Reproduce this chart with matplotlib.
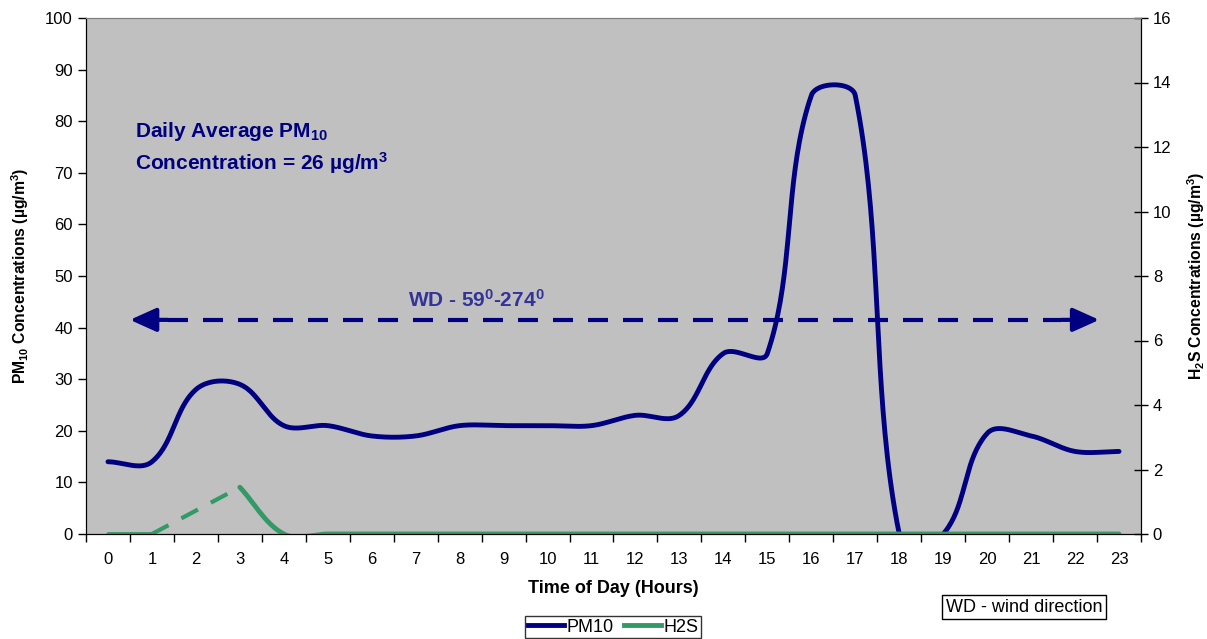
import numpy as np
import matplotlib
matplotlib.use("Agg")
import matplotlib.pyplot as plt
from matplotlib.lines import Line2D

plt.rcParams['font.family'] = ['Liberation Sans', 'DejaVu Sans']
plt.rcParams['mathtext.default'] = 'regular'

hours = list(range(24))
hour_labels = [str(h) for h in hours]
pm10 = [14, 14, 28, 29, 21, 21, 19, 19, 21, 21, 21, 21, 23, 23, 35, 35, 85, 85, 0, 0, 19.5, 19, 16, 16]
h2s = [0, 0, None, 1.45, 0, 0, 0, 0, 0, 0, 0, 0, 0, 0, 0, 0, 0, 0, 0, 0, 0, 0, 0, 0]

wd_text = "WD - 59$^{0}$-274$^{0}$"
avg_line1 = "Daily Average PM$_{10}$"
avg_line2 = "Concentration = 26 µg/m$^{3}$"


def smooth(axis, xs, ys, n=40):
    """Excel-like smoothed line: Bezier segments computed in display space."""
    pts = axis.transData.transform(np.column_stack([xs, ys]).astype(float))
    m = len(pts)
    out = []
    t = np.linspace(0, 1, n)[:, None]
    for i in range(m - 1):
        p0 = pts[i - 1] if i > 0 else pts[i]
        p1 = pts[i]
        p2 = pts[i + 1]
        p3 = pts[i + 2] if i + 2 < m else pts[i + 1]
        seg = np.linalg.norm(p2 - p1)
        d1 = p2 - p0
        d2 = p3 - p1
        n1 = np.linalg.norm(d1)
        n2 = np.linalg.norm(d2)
        c1 = p1 + (d1 / n1 * seg / 3.0 if n1 > 0 else 0)
        c2 = p2 - (d2 / n2 * seg / 3.0 if n2 > 0 else 0)
        b = ((1 - t) ** 3) * p1 + 3 * ((1 - t) ** 2) * t * c1 + 3 * (1 - t) * t ** 2 * c2 + t ** 3 * p2
        out.append(b if i == 0 else b[1:])
    out = np.vstack(out)
    data = axis.transData.inverted().transform(out)
    return data[:, 0], data[:, 1]


fig = plt.figure(figsize=(12.07, 6.39), dpi=100)
ax = fig.add_axes([86 / 1207, 1 - 534 / 639, (1141 - 86) / 1207, (534 - 18) / 639])
ax.set_facecolor('#C0C0C0')
ax2 = ax.twinx()

ax.set_xlim(-0.5, 23.5)
ax.set_ylim(0, 100)
ax2.set_xlim(-0.5, 23.5)
ax2.set_ylim(0, 16)

navy = '#000080'
green = '#339966'

# PM10
sx, sy = smooth(ax, hours, pm10)
ax.plot(sx, sy, color=navy, lw=3.5, solid_capstyle='round', zorder=3)

# H2S: segments separated by the missing value at hour 2
ax2.plot(hours[:2], h2s[:2], color=green, lw=3.5, solid_capstyle='round', zorder=2)
gx, gy = smooth(ax2, hours[3:], h2s[3:])
ax2.plot(gx, gy, color=green, lw=3.5, solid_capstyle='round', zorder=2)
ax2.plot([hours[1], hours[3]], [h2s[1], h2s[3]], color=green, lw=3, ls=(0, (4.5, 3.5)), zorder=2)

ax.set_yticks(np.arange(0, 101, 10))
ax2.set_yticks(np.arange(0, 17, 2))
ax.set_xticks(hours)
ax.set_xticklabels(hour_labels)
ax.set_xticks(np.arange(-0.5, 24, 1), minor=True)
ax.tick_params(axis='x', which='major', length=0, labelsize=12, pad=13)
ax.tick_params(axis='x', which='minor', length=6, direction='out', width=1)
ax.tick_params(axis='y', length=6, direction='out', labelsize=12, width=1)
ax2.tick_params(axis='y', length=10, direction='inout', labelsize=12, width=1)

for a in (ax, ax2):
    a.spines['top'].set_color('#808080')
    a.spines['left'].set_color('black')
    a.spines['right'].set_color('black')
    a.spines['bottom'].set_color('black')

ax.set_xlabel('Time of Day (Hours)', fontsize=13, fontweight='bold', labelpad=9)
ax.set_ylabel('PM$_{10}$ Concentrations (µg/m$^{3}$)', fontsize=11.3, fontweight='bold', labelpad=10)
ax2.set_ylabel('H$_{2}$S Concentrations (µg/m$^{3}$)', fontsize=11.3, fontweight='bold', labelpad=10)

ax.text(0.62, 78.1, avg_line1, fontsize=15, fontweight='bold', color=navy, va='center')
ax.text(0.62, 71.8, avg_line2, fontsize=15, fontweight='bold', color=navy, va='center')

# wind-direction double arrow: dashed shaft with solid heads
arrow_y = 41.5
arrow_left, arrow_right = 0.5, 22.55
shaft = 0.86
ax.plot([arrow_left + shaft, arrow_right - shaft], [arrow_y, arrow_y], color=navy, lw=3,
        ls=(0, (4.8, 3.6)), zorder=4)
for tip, sign in ((arrow_left, 1), (arrow_right, -1)):
    ax.annotate('', xy=(tip, arrow_y), xytext=(tip + sign * shaft, arrow_y),
                arrowprops=dict(arrowstyle='-|>,head_length=1.0,head_width=0.45', color=navy, lw=3,
                                mutation_scale=16, shrinkA=0, shrinkB=0), zorder=4)
ax.text(8.37, 45.3, wd_text, fontsize=15, fontweight='bold', color='#333399', ha='center', va='center')

handles = [Line2D([0], [0], color=navy, lw=3.5), Line2D([0], [0], color=green, lw=3.5)]
fig.legend(handles, ['PM10', 'H2S'], loc='upper center', bbox_to_anchor=(613 / 1207, 1 - 616 / 639),
           ncol=2, fontsize=13, frameon=True, fancybox=False, edgecolor='black',
           handlelength=2.0, handletextpad=0.15, columnspacing=0.6, borderpad=0.15,
           borderaxespad=0)

fig.text(1024 / 1207, 1 - 607 / 639, 'WD - wind direction', fontsize=13, ha='center', va='center',
         bbox=dict(boxstyle='square,pad=0.2', fc='white', ec='black', lw=1))

fig.savefig('out.png', dpi=100)
